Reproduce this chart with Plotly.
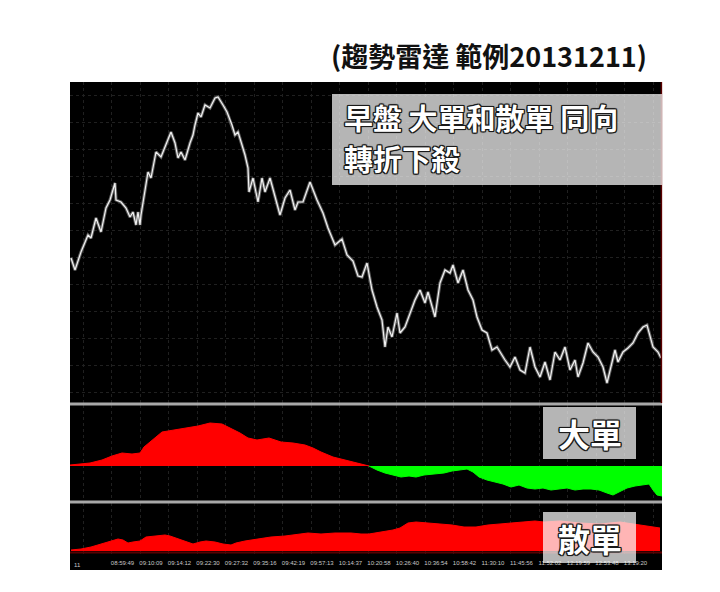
import plotly.graph_objects as go

# ---------------- data (bar index on x) ----------------
price_bars = [1, 5, 11, 18, 21, 26, 31, 36, 40, 45, 46, 51, 56, 60, 63, 66, 68, 70, 71, 78,
              81, 86, 91, 96, 101, 105, 108, 111, 115, 120, 123, 125, 128, 131, 135, 140, 145, 148, 150, 153,
              157, 162, 165, 168, 172, 175, 178, 179, 183, 188, 192, 195, 200, 205, 210, 215, 220, 225, 228, 233,
              240, 247, 253, 258, 265, 272, 277, 283, 288, 292, 297, 302, 307, 312, 315, 318, 322, 327, 330, 335,
              340, 345, 350, 355, 358, 365, 370, 375, 380, 383, 388, 393, 398, 403, 407, 412, 417, 422, 427, 433,
              435, 440, 445, 450, 455, 460, 465, 470, 475, 480, 485, 490, 495, 500, 505, 508, 513, 518, 523, 528,
              533, 537, 540, 545, 548, 553, 558, 563, 568, 573, 577, 580, 583, 588, 591]
price = [242, 230, 248, 265, 262, 282, 268, 292, 300, 317, 300, 298, 292, 283, 288, 275, 288, 275, 285, 328,
         322, 348, 343, 355, 368, 357, 342, 348, 340, 357, 365, 375, 387, 383, 395, 392, 402, 403, 400, 395,
         388, 375, 365, 368, 355, 345, 332, 308, 322, 298, 322, 308, 322, 302, 285, 302, 310, 290, 298, 298,
         318, 300, 287, 272, 255, 261, 245, 239, 224, 223, 237, 210, 193, 180, 153, 173, 163, 187, 167, 173,
         187, 200, 210, 197, 208, 183, 217, 230, 227, 235, 217, 230, 210, 200, 183, 170, 167, 150, 153, 143,
         140, 133, 143, 130, 127, 153, 133, 123, 138, 120, 148, 140, 153, 130, 140, 123, 137, 157, 148, 143,
         133, 117, 130, 150, 138, 148, 152, 157, 167, 173, 175, 163, 153, 148, 142]

big_buy_bars = [0, 11, 20, 32, 42, 52, 62, 70, 74, 80, 86, 92, 104, 116, 128, 140, 152, 160, 170, 178,
                187, 199, 211, 223, 235, 243, 251, 263, 275, 287, 297, 299]
big_buy = [1, 2, 3, 6, 10, 13, 12, 13, 19, 24, 29, 34, 36, 38, 40, 43, 42, 38, 33, 28,
           26, 28, 24, 23, 21, 18, 14, 9, 6, 3, 1, 0]
big_sell_bars = [299, 307, 315, 323, 331, 339, 346, 354, 364, 374, 382, 390, 397, 403, 409, 417, 425, 433, 441, 449,
                 457, 465, 473, 481, 489, 497, 505, 513, 521, 529, 537, 543, 549, 557, 565, 573, 579, 583, 587, 592]
big_sell = [0, -4, -7, -9, -11, -10, -11, -9, -8, -7, -5, -4, -3, -6, -11, -14, -16, -18, -21, -19,
            -22, -23, -22, -24, -23, -22, -24, -23, -23, -24, -27, -29, -26, -22, -20, -19, -18, -24, -29, -30]

retail_bars = [1, 11, 21, 31, 41, 48, 53, 58, 63, 70, 76, 85, 95, 100, 108, 116, 123, 130, 136, 145,
               153, 161, 166, 175, 188, 201, 215, 228, 238, 251, 265, 281, 291, 299, 311, 323, 330, 338, 346, 358,
               370, 382, 394, 406, 418, 430, 442, 454, 465, 474, 490, 510, 530, 550, 568, 580, 590]
retail = [1, 2, 4, 7, 10, 12, 11, 8, 9, 10, 14, 15, 16, 15, 12, 9, 7, 9, 10, 9,
          7, 6, 8, 10, 12, 14, 15, 17, 18, 17, 18, 18, 17, 17, 19, 21, 23, 28, 29, 28,
          27, 26, 24, 24, 26, 27, 28, 29, 30, 29, 30, 28, 27, 29, 26, 24, 23]

grid_bars = [13, 41.5, 70, 98.5, 127, 155.5, 184, 212.5, 241, 269.5, 298, 326.5, 355, 383.5, 412,
             440.5, 469, 497.5, 526, 554.5, 583]
time_labels = ["", "08:59:49", "09:10:09", "09:14:12", "09:22:30", "09:27:32", "09:35:16", "09:42:19",
               "09:57:13", "10:14:37", "10:20:58", "10:26:40", "10:36:54", "10:58:42", "11:30:10",
               "11:45:56", "11:52:02", "12:19:59", "12:53:48", "13:19:20", ""]

title_text = "(趨勢雷達 範例20131211)"
note_lines = ["早盤 大單和散單 同向", "轉折下殺"]
big_label = "大單"
retail_label = "散單"

# ---------------- geometry helpers (page pixels; page has an 8px body margin) ----------------
OFF = 8
W, H = 712, 584
L, R, T, B = 62, 58, 74, 22
PW, PH = W - L - R, H - T - B


def px(x):
    return (x - OFF - L) / PW


def py(y):
    return (H - B - (y - OFF)) / PH


CJK = "Noto Sans CJK TC"
OUTLINE = ("1px 1px 0 #1a1a1a, -1px -1px 0 #1a1a1a, 1px -1px 0 #1a1a1a, -1px 1px 0 #1a1a1a, "
           "0 1px 1px #000, 1px 0 1px #000, 0 -1px 1px #000, -1px 0 1px #000")

fig = go.Figure()

# price line (glow + core)
fig.add_trace(go.Scatter(x=price_bars, y=price, mode="lines", xaxis="x", yaxis="y",
                         line=dict(color="rgba(170,170,170,0.55)", width=3.2), hoverinfo="skip",
                         showlegend=False))
fig.add_trace(go.Scatter(x=price_bars, y=price, mode="lines", xaxis="x", yaxis="y",
                         line=dict(color="#f2f2f2", width=1.2), showlegend=False))

# big orders
fig.add_trace(go.Scatter(x=big_buy_bars, y=big_buy, mode="lines", fill="tozeroy", xaxis="x2", yaxis="y2",
                         line=dict(color="#ff0000", width=1), fillcolor="#ff0000", showlegend=False))
fig.add_trace(go.Scatter(x=big_sell_bars, y=big_sell, mode="lines", fill="tozeroy", xaxis="x2", yaxis="y2",
                         line=dict(color="#00ff00", width=1), fillcolor="#00ff00", showlegend=False))

# retail orders
fig.add_trace(go.Scatter(x=retail_bars, y=retail, mode="lines", fill="tozeroy", xaxis="x3", yaxis="y3",
                         line=dict(color="#ff0000", width=1), fillcolor="#ff0000", showlegend=False))

grid_col = "#202020"
xcommon = dict(range=[0, PW], tickvals=grid_bars, showgrid=True, gridcolor=grid_col, griddash="dot",
               gridwidth=1, zeroline=False, showline=False, ticks="", fixedrange=True)

fig.update_layout(
    width=W, height=H,
    margin=dict(l=L, r=R, t=T, b=B, pad=0),
    paper_bgcolor="white", plot_bgcolor="black",
    xaxis=dict(**xcommon, anchor="y", showticklabels=False),
    xaxis2=dict(**xcommon, anchor="y2", showticklabels=False, matches="x"),
    xaxis3=dict(**xcommon, anchor="y3", showticklabels=True, matches="x", ticktext=time_labels,
                tickfont=dict(family="Liberation Sans", size=6, color="#c8c8c8"),
                ticklabelshift=11, ticklabelstandoff=2),
    yaxis=dict(domain=[py(403), 1], range=[97, 418], showticklabels=False, showgrid=True, dtick=27,
               gridcolor=grid_col, griddash="dot", zeroline=False, ticks=""),
    yaxis2=dict(domain=[py(501), py(405)], range=[-35, 61], showticklabels=False, showgrid=False,
                zeroline=False, ticks=""),
    yaxis3=dict(domain=[py(556), py(503)], range=[-5, 48], showticklabels=False, showgrid=False,
                zeroline=False, ticks=""),
)

shapes = []
shapes.append(dict(type="rect", xref="paper", yref="paper", x0=0, x1=1, y0=0, y1=1,
                   fillcolor="black", line=dict(width=0), layer="below"))
for yy in (404, 502):
    shapes.append(dict(type="line", xref="paper", yref="paper", x0=0, x1=1, y0=py(yy), y1=py(yy),
                       line=dict(color="#a8a8a8", width=3), layer="above"))
shapes.append(dict(type="line", xref="paper", yref="paper", x0=0, x1=1, y0=py(552.5), y1=py(552.5),
                   line=dict(color="#5a0000", width=2), layer="above"))
shapes.append(dict(type="line", xref="paper", yref="paper", x0=0.999, x1=0.999, y0=py(403), y1=1,
                   line=dict(color="#5a0000", width=1.5), layer="above"))
shapes.append(dict(type="rect", xref="paper", yref="paper", x0=px(332), x1=1, y0=py(185), y1=py(94),
                   fillcolor="rgba(255,255,255,0.71)", line=dict(width=0), layer="above"))
shapes.append(dict(type="rect", xref="paper", yref="paper", x0=px(543), x1=px(636), y0=py(459), y1=py(407),
                   fillcolor="rgba(255,255,255,0.71)", line=dict(width=0), layer="above"))
shapes.append(dict(type="rect", xref="paper", yref="paper", x0=px(543), x1=px(636), y0=py(563), y1=py(512),
                   fillcolor="rgba(255,255,255,0.71)", line=dict(width=0), layer="above"))
fig.update_layout(shapes=shapes)

ann = []
ann.append(dict(text=title_text, xref="paper", yref="paper", x=px(489), y=py(55), xanchor="center",
                yanchor="middle", showarrow=False,
                font=dict(family=CJK, size=27, color="#111111", weight=700)))
for line_text, yy in zip(note_lines, (117, 158)):
    ann.append(dict(text=line_text, xref="paper", yref="paper", x=px(343), y=py(yy), xanchor="left",
                    yanchor="middle", align="left", showarrow=False, borderpad=0,
                    font=dict(family=CJK, size=29, color="white", weight=700, shadow=OUTLINE)))
ann.append(dict(text=big_label, xref="paper", yref="paper", x=px(589.5), y=py(433), xanchor="center",
                yanchor="middle", showarrow=False,
                font=dict(family=CJK, size=32, color="white", weight=700, shadow=OUTLINE)))
ann.append(dict(text=retail_label, xref="paper", yref="paper", x=px(589.5), y=py(537.5), xanchor="center",
                yanchor="middle", showarrow=False,
                font=dict(family=CJK, size=32, color="white", weight=700, shadow=OUTLINE)))
ann.append(dict(text="11", xref="paper", yref="paper", x=px(72), y=py(565), xanchor="left",
                yanchor="middle", showarrow=False,
                font=dict(family="Liberation Sans", size=6, color="#c8c8c8")))
fig.update_layout(annotations=ann)

fig.write_html("out.html")
